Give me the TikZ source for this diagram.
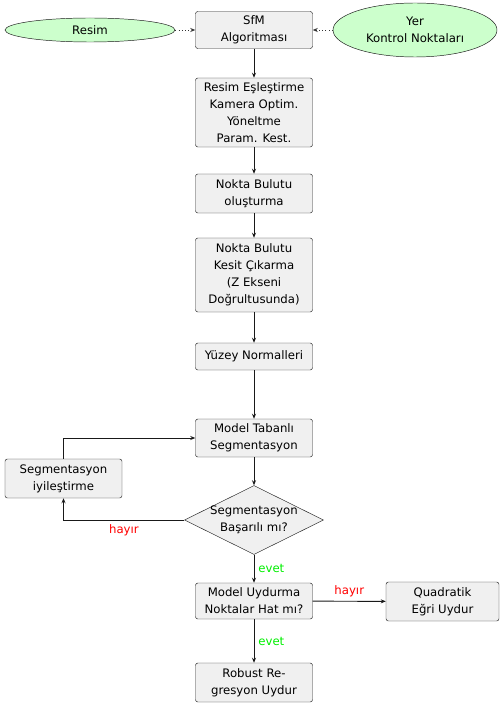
\documentclass[tikz,border=0pt]{standalone}
\usepackage{fontspec}
\setmainfont{DejaVu Sans}
\usepackage{tikz}
\usetikzlibrary{arrows.meta,positioning,shapes.geometric}
\definecolor{boxbg}{HTML}{F0F0F0}
\definecolor{inbg}{HTML}{CCFFCC}
\definecolor{hayirc}{HTML}{FF0000}
\definecolor{evetc}{HTML}{00EE00}

\begin{document}
\begin{tikzpicture}[x=0.03cm,y=-0.03cm,
  every node/.style={font=\fontsize{10}{14.5}\selectfont},
  box/.style={draw=black!85,fill=boxbg,rounded corners=2pt,inner sep=2pt,
              minimum width=3.51cm,align=center},
  girdi/.style={ellipse,draw=black!90,fill=inbg,inner sep=0pt,align=center},
  karar/.style={diamond,draw=black!85,fill=boxbg,inner sep=-5pt,aspect=2,
                align=center,minimum width=4.17cm,minimum height=2.07cm},
  ar/.style={-{Stealth[length=1.5mm,width=1.2mm]},draw=black!90,thick},
  nokta/.style={-{Stealth[length=1.5mm,width=1.2mm]},draw=black!80,thick,dotted},
  hayir/.style={text=hayirc},
  evet/.style={text=evetc}]
\useasboundingbox (0,0) rectangle (499,707);
\node[box,minimum height=1.11cm] (sfm) at (254,30) {SfM\\Algoritması};
\node[girdi,minimum width=5.1cm,minimum height=0.72cm] (resim) at (90,30) {Resim};
\node[girdi,minimum width=4.92cm,minimum height=1.62cm] (ykn) at (415,30) {Yer\\Kontrol Noktaları};
\node[box,minimum height=2.07cm] (esles) at (254,112.5) {Resim Eşleştirme\\Kamera Optim.\\Yöneltme\\Param. Kest.};
\node[box,minimum height=1.17cm] (bulut) at (254,193.5) {Nokta Bulutu\\oluşturma};
\node[box,minimum height=2.22cm] (kesit) at (254,275) {Nokta Bulutu\\Kesit Çıkarma\\(Z Ekseni\\Doğrultusunda)};
\node[box,minimum height=0.81cm] (normal) at (254,356.5) {Yüzey Normalleri};
\node[box,minimum height=1.14cm] (segm) at (254,438) {Model Tabanlı\\Segmentasyon};
\node[karar] (basari) at (254,520) {Segmentasyon\\Başarılı mı?};
\node[box,minimum height=1.17cm] (iyiles) at (63.5,478.5) {Segmentasyon\\iyileştirme};
\node[box,minimum height=1.08cm] (hatmi) at (254,601) {Model Uydurma\\Noktalar Hat mı?};
\node[box,minimum width=3.39cm,minimum height=1.17cm] (quad) at (442.5,601.5) {Quadratik\\Eğri Uydur};
\node[box,minimum height=1.17cm] (robust) at (254,682.5) {Robust Re-\\gresyon Uydur};
% girdiler
\draw[nokta] (resim) -- (sfm);
\draw[nokta] (ykn) -- (sfm);
% ana akis
\draw[ar] (sfm) -- (esles);
\draw[ar] (esles) -- (bulut);
\draw[ar] (bulut) -- (kesit);
\draw[ar] (kesit) -- (normal);
\draw[ar] (normal) -- (segm);
\draw[ar] (segm) -- (basari);
\draw[ar] (basari.west) -| node[hayir,pos=0.25,below] {hayır} (iyiles.south);
\draw[ar] (iyiles.north) |- (segm.west);
\draw[ar] (basari) -- node[evet,right] {evet} (hatmi);
\draw[ar] (hatmi) -- node[hayir,above] {hayır} (quad);
\draw[ar] (hatmi) -- node[evet,right] {evet} (robust);
\end{tikzpicture}
\end{document}
